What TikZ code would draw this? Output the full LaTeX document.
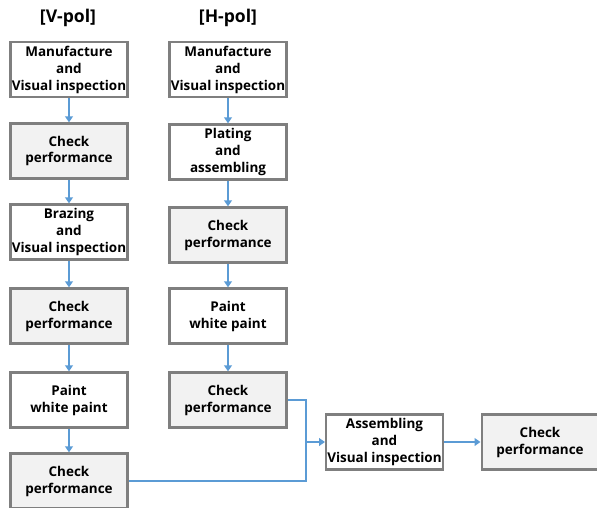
\documentclass[tikz,border=0pt]{standalone}
\usepackage{fontspec}
\setmainfont{Open Sans}
\usepackage{xcolor}
\usepackage{tikz}
\usetikzlibrary{positioning,arrows.meta}

\definecolor{boxline}{HTML}{7F7F7F}
\definecolor{boxfill}{HTML}{F2F2F2}
\definecolor{flowblue}{HTML}{5B9BD5}

\begin{document}
\begin{tikzpicture}[x=0.3mm,y=-0.3mm,
  stepbox/.style={draw=boxline, line width=2pt, fill=white, minimum width=35mm, minimum height=16.5mm,
    inner sep=0pt, align=center, font=\fontsize{11.5}{14.5}\selectfont\bfseries},
  checkbox/.style={stepbox, fill=boxfill},
  title/.style={font=\fontsize{15}{17}\selectfont\bfseries},
  arr/.style={draw=flowblue, line width=1.7pt, -{Triangle[length=5pt,width=6.5pt]}},
  lin/.style={draw=flowblue, line width=1.7pt}]
\useasboundingbox (0,0) rectangle (597,507);

\node[title](vt) at (68,18) {[V-pol]};
\node[title](ht) at (228,18) {[H-pol]};

\node[stepbox](v1) at (69,69.5) {Manufacture\\and\\Visual inspection};
\node[checkbox](v2) at (69,151) {Check\\performance};
\node[stepbox](v3) at (69,232) {Brazing\\and\\Visual inspection};
\node[checkbox](v4) at (69,316) {Check\\performance};
\node[stepbox](v5) at (69,400) {Paint\\white paint};
\node[checkbox](v6) at (69,481) {Check\\performance};

\node[stepbox](h1) at (228,69.5) {Manufacture\\and\\Visual inspection};
\node[stepbox](h2) at (228,152) {Plating\\and\\assembling};
\node[checkbox](h3) at (228,235) {Check\\performance};
\node[stepbox](h4) at (228,316) {Paint\\white paint};
\node[checkbox](h5) at (228,400) {Check\\performance};

\node[stepbox](asm) at (384.5,442) {Assembling\\and\\Visual inspection};
\node[checkbox](fin) at (540,442) {Check\\performance};
\coordinate (m) at (306,442);

\foreach \i/\j in {1/2,2/3,3/4,4/5,5/6}
	\draw[arr] (v\i) -- (v\j);
\foreach \i/\j in {1/2,2/3,3/4,4/5}
	\draw[arr] (h\i) -- (h\j);

\draw[lin] (v6.east) -| (m);
\draw[arr] (h5.east) -| (m) -- (asm.west);
\draw[arr] (asm) -- (fin);
\end{tikzpicture}
\end{document}
